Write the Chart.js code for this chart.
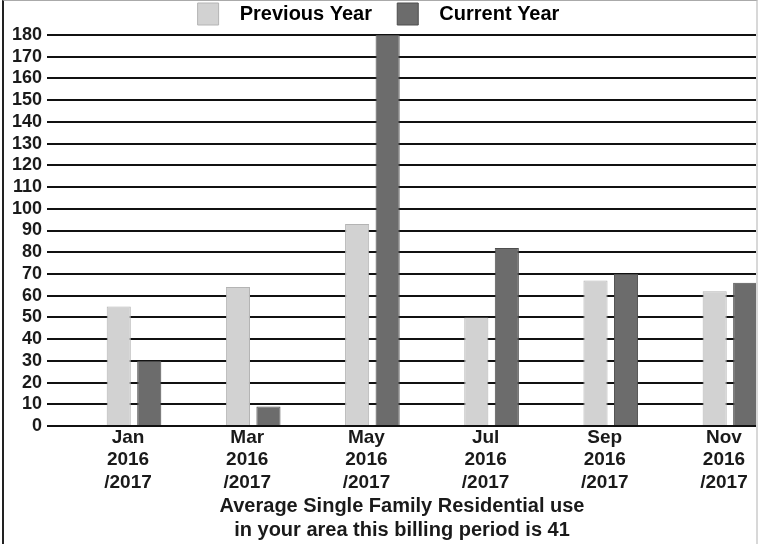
<!DOCTYPE html>
<html>
<head>
<meta charset="utf-8">
<script src="https://cdn.jsdelivr.net/npm/chart.js@4/dist/chart.umd.min.js"></script>
<style>
  html, body { margin: 0; padding: 0; background: #fff; }
  #wrap { position: relative; width: 764px; height: 544px; overflow: hidden; background: #fff; }
  #wrap canvas { position: absolute; left: 0; top: 0; }
  #frame {
    position: absolute; left: 2px; top: 0; width: 756px; height: 544px;
    border-left: 2px solid #222; border-top: 1px solid #aaa; border-right: 2px solid #d8d8d8;
    box-sizing: border-box; pointer-events: none;
  }
</style>
</head>
<body>
<div id="wrap">
  <canvas id="c" width="764" height="544"></canvas>
  <div id="frame"></div>
</div>
<script>
// Billing periods shown on the x axis
const months = ['Jan', 'Mar', 'May', 'Jul', 'Sep', 'Nov'];
const yearLine1 = '2016';
const yearLine2 = '/2017';

// Usage per billing period
const previousYear = [55, 64, 93, 50, 67, 62];
const currentYear  = [30, 9, 180, 82, 70, 66];

// Y axis range and step
const yMin = 0;
const yMax = 180;
const yStep = 10;

const seriesNames = ['Previous Year', 'Current Year'];
const footnote = ['Average Single Family Residential use', 'in your area this billing period is 41'];

const FONT = "'Liberation Sans', Arial, sans-serif";

const toPoints = arr => arr.map((v, i) => ({ x: i, y: v }));

new Chart(document.getElementById('c'), {
  type: 'bar',
  data: {
    datasets: [
      {
        label: seriesNames[0],
        data: toPoints(previousYear),
        backgroundColor: '#d2d2d2',
        borderColor: '#b4b4b4',
        borderWidth: 1
      },
      {
        label: seriesNames[1],
        data: toPoints(currentYear),
        backgroundColor: '#6c6c6c',
        borderColor: '#4e4e4e',
        borderWidth: 1
      }
    ]
  },
  options: {
    responsive: false,
    animation: false,
    categoryPercentage: 0.512,
    barPercentage: 0.79,
    layout: { padding: { left: 0, right: 7, top: 0, bottom: 0 } },
    scales: {
      x: {
        type: 'linear',
        min: -0.73,
        max: 5.227,
        offset: false,
        border: { display: false },
        grid: { display: false, drawTicks: false },
        afterBuildTicks: scale => {
          scale.ticks = months.map((m, i) => ({ value: i - 0.05 }));
        },
        afterFit: scale => { scale.height = 66; },
        ticks: {
          autoSkip: false,
          maxRotation: 0,
          padding: 0,
          color: '#1a1a1a',
          font: { family: FONT, size: 19, weight: 'bold', lineHeight: 1.2 },
          callback: value => {
            const m = months[Math.round(value)];
            return m ? [m, yearLine1, yearLine2] : '';
          }
        }
      },
      y: {
        min: yMin,
        max: yMax,
        border: { display: false },
        grid: { color: '#111', lineWidth: 2, drawTicks: false },
        afterFit: scale => { scale.width = 47; },
        ticks: {
          stepSize: yStep,
          autoSkip: false,
          padding: 5,
          color: '#1a1a1a',
          font: { family: FONT, size: 18, weight: 'bold' }
        }
      }
    },
    plugins: {
      tooltip: { enabled: false },
      legend: {
        position: 'top',
        labels: {
          boxWidth: 21,
          boxHeight: 22,
          padding: 3,
          color: '#1a1a1a',
          font: { family: FONT, size: 20, weight: 'bold' },
          generateLabels: chart => chart.data.datasets.map((ds, i) => ({
            text: (i === 0 ? '  ' + ds.label + '    ' : '  ' + ds.label),
            fillStyle: ds.backgroundColor,
            strokeStyle: ds.borderColor,
            lineWidth: 1,
            datasetIndex: i,
            hidden: false
          }))
        }
      },
      title: {
        display: true,
        position: 'bottom',
        fullSize: false,
        text: footnote,
        color: '#1a1a1a',
        font: { family: FONT, size: 20, weight: 'bold', lineHeight: 1.2 },
        padding: { top: 2, bottom: 2 }
      }
    }
  }
});
</script>
</body>
</html>
